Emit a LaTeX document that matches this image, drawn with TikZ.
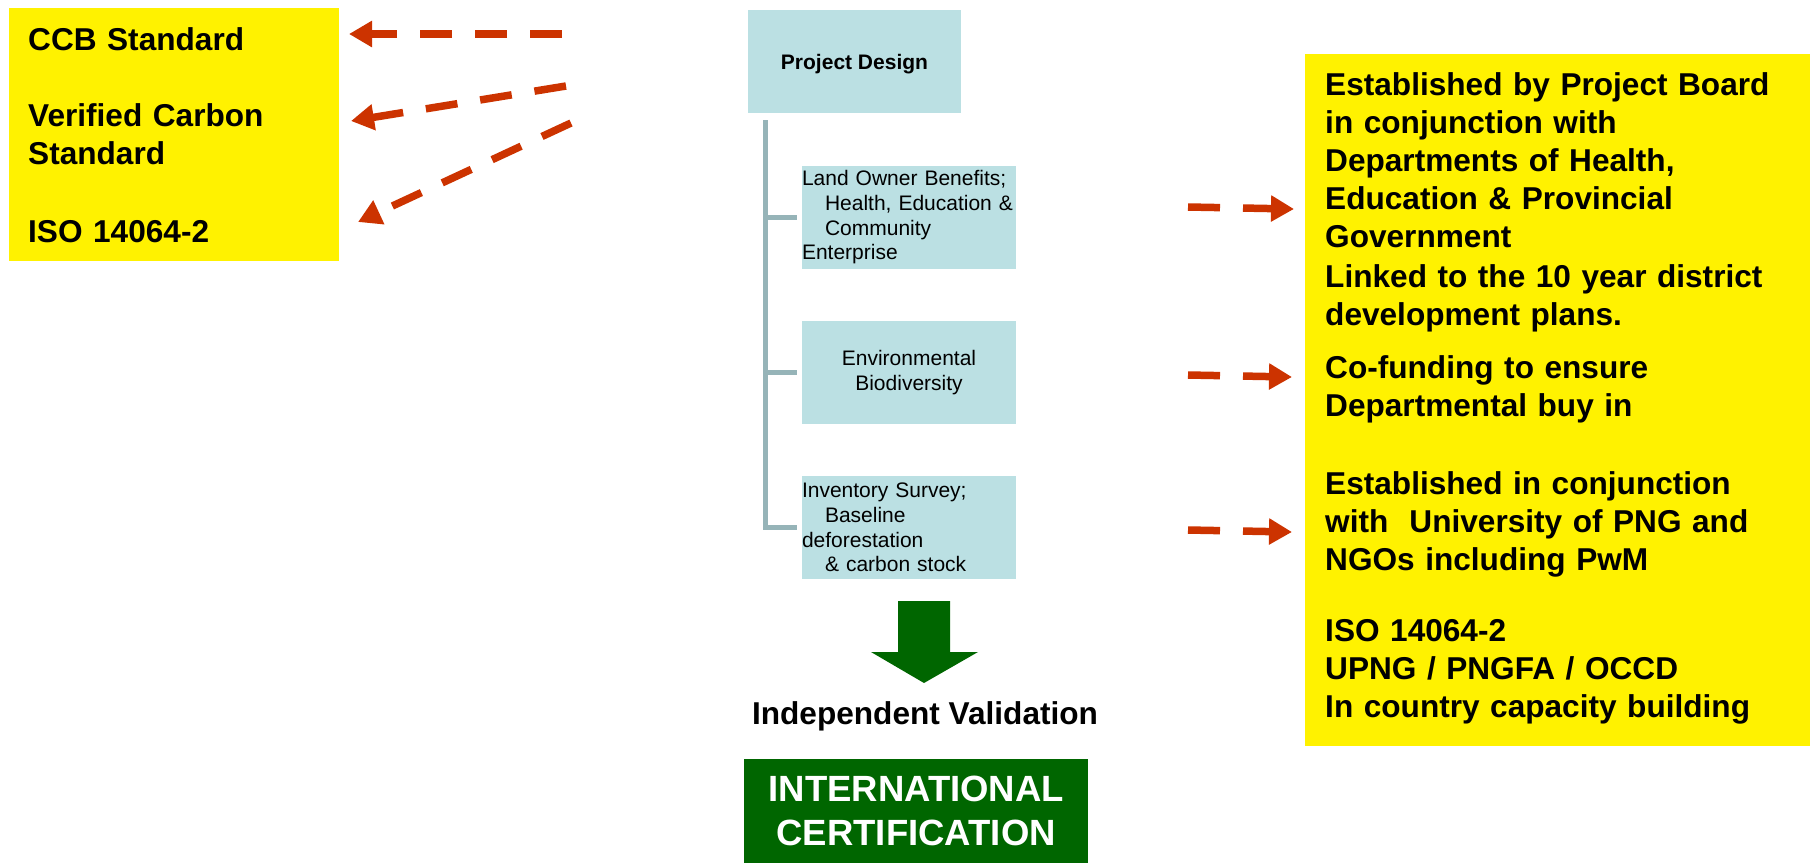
\documentclass[tikz,border=0pt]{standalone}
\usepackage{fontspec}
\setmainfont{Liberation Sans}
\usetikzlibrary{arrows.meta,positioning}
\definecolor{boxteal}{RGB}{187,224,227}
\definecolor{spinegray}{RGB}{150,180,184}
\definecolor{arrowred}{RGB}{204,51,0}
\definecolor{certgreen}{RGB}{0,102,0}
\def\bigtext{\bfseries\fontsize{31.6}{38}\selectfont}
\def\smalltext{\fontsize{21}{24.7}\selectfont}
\tikzset{
	yellowbox/.style={fill=yellow, anchor=north west, inner sep=0pt},
	branchbox/.style={fill=boxteal, minimum width=214pt, minimum height=103pt, inner sep=0pt, text width=214pt, font=\smalltext},
	branch/.style={line width=5pt, color=spinegray},
	dasharrow/.style={line width=7.5pt, color=arrowred, dash pattern=on 32pt off 23pt, -{Triangle[length=23pt,width=25pt]}}
}

\begin{document}
\begin{tikzpicture}[x=1pt,y=-1pt]
		%%%%% START %%%%%
		\useasboundingbox (0,0) rectangle (1810,863);
		
		% standards on the left
		\node[yellowbox, minimum width=330pt, minimum height=253pt] (lbox) at (9,8) {};
		\node[anchor=north west, inner sep=0pt, text width=300pt, align=left, font=\bigtext] (ltext) at ([xshift=19pt,yshift=-15.4pt]lbox.north west) {\strut CCB Standard\\[38pt]Verified Carbon\\Standard\\[40pt]ISO 14064-2};
		
		\coordinate (la1) at (562,34);
		\coordinate (lt1) at (349,34);
		\coordinate (la2) at (566,86);
		\coordinate (lt2) at (351,121);
		\coordinate (la3) at (571,123);
		\coordinate (lt3) at (358,222);
		\draw[dasharrow] (la1) -- (lt1);
		\draw[dasharrow] (la2) -- (lt2);
		\draw[dasharrow] (la3) -- (lt3);
		
		% project design tree
		\node[fill=boxteal, minimum width=213pt, minimum height=103pt, inner sep=0pt, text depth=0pt, font=\bfseries\fontsize{21}{24.7}\selectfont] (design) at (854.5,61.5) {Project Design};
		
		\node[branchbox, align=left] (land) at (909,217.5) {Land Owner Benefits;\\\hspace*{23pt}\mbox{Health, Education \&}\\\hspace*{23pt}Community\\Enterprise};
		\node[branchbox, align=center] (enviro) at (909,372.5) {Environmental\\Biodiversity};
		\node[branchbox, align=left] (invent) at (909,527.5) {Inventory Survey;\\\hspace*{23pt}Baseline\\deforestation\\\hspace*{23pt}\& carbon stock};
		
		\coordinate (spine) at ([xshift=18pt,yshift=-7pt]design.south west);
		\draw[branch] (spine) |- ([xshift=-5pt]land.west);
		\draw[branch] (spine) |- ([xshift=-5pt]enviro.west);
		\draw[branch] (spine) |- ([xshift=-5pt]invent.west);
		
		% validation and certification
		\fill[certgreen] (898,601) -- (950,601) -- (950,652) -- (978,652) -- (924,683) -- (871,652) -- (898,652) -- cycle;
		\node[anchor=base, inner sep=0pt, font=\bigtext] (valid) at (925,724) {Independent Validation};
		\node[fill=certgreen, anchor=north west, minimum width=344pt, minimum height=104pt, inner sep=0pt, align=center, text=white, font=\bfseries\fontsize{36.5}{44}\selectfont] (cert) at (744,759) {INTERNATIONAL\\CERTIFICATION};
		
		% notes on the right
		\node[yellowbox, minimum width=505pt, minimum height=692pt] (rbox) at (1305,54) {};
		\node[anchor=north west, inner sep=0pt, text width=480pt, align=left, font=\bigtext] (rtext) at ([xshift=20pt,yshift=-14.4pt]rbox.north west) {\strut Established by Project Board\\in conjunction with\\Departments of Health,\\Education \& Provincial\\Government\\[2pt]Linked to the 10 year district\\development plans.\\[15pt]Co-funding to ensure\\Departmental buy in\\[40pt]Established in conjunction\\with~ University of PNG and\\NGOs including PwM\\[33pt]ISO 14064-2\\UPNG / PNGFA / OCCD\\In country capacity building};
		
		\coordinate (ra1) at (1188,207);
		\coordinate (rt1) at (1294,209);
		\coordinate (ra2) at (1188,375);
		\coordinate (rt2) at (1292,377);
		\coordinate (ra3) at (1188,530);
		\coordinate (rt3) at (1292,532);
		\draw[dasharrow] (ra1) -- (rt1);
		\draw[dasharrow] (ra2) -- (rt2);
		\draw[dasharrow] (ra3) -- (rt3);
		
		%%%%% END %%%%%
\end{tikzpicture}
\end{document}
